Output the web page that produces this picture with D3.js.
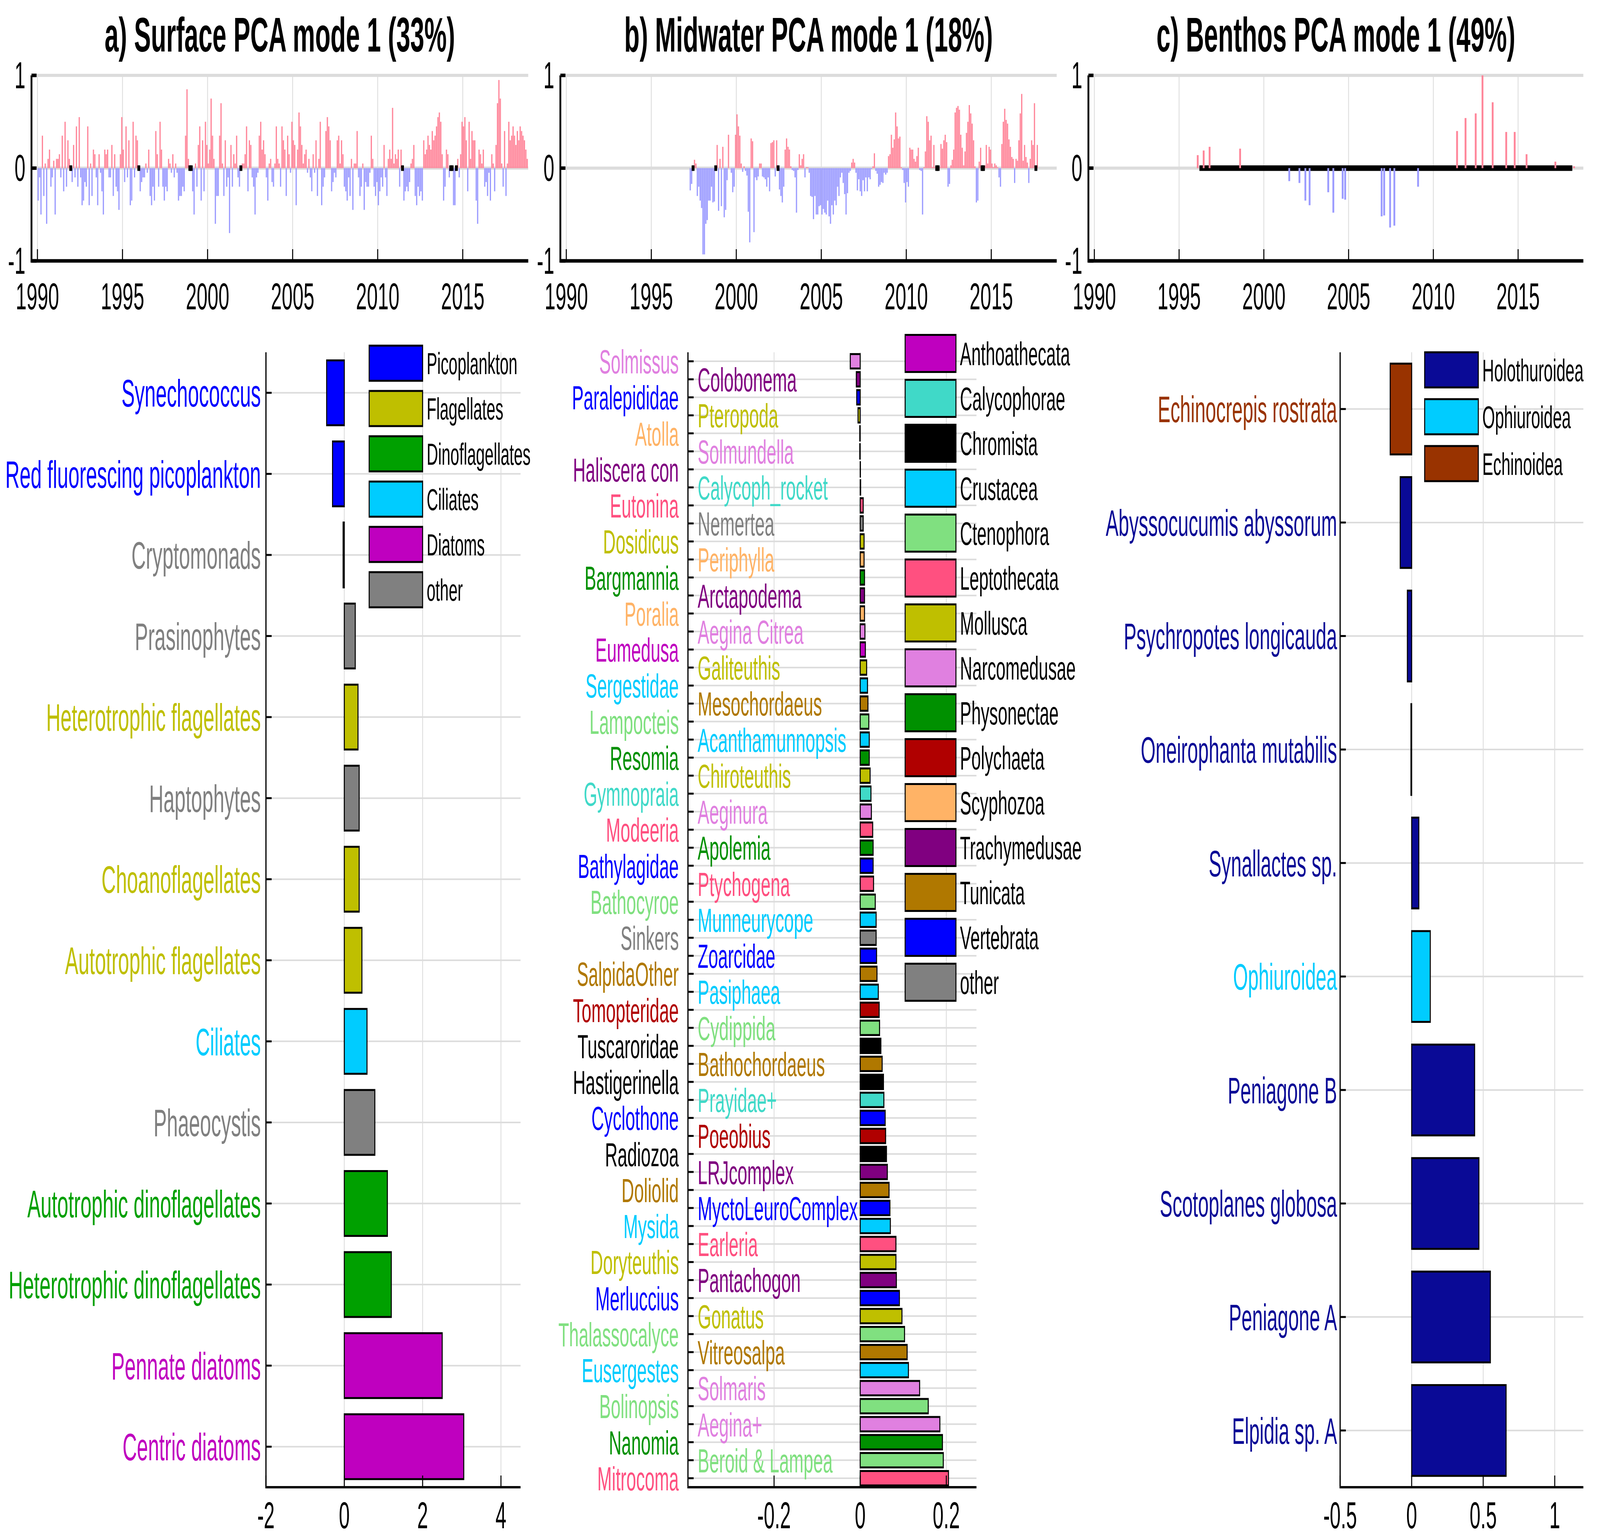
<!DOCTYPE html>
<html><head><meta charset="utf-8">
<script src="https://cdn.jsdelivr.net/npm/d3@7"></script>
<style>html,body{margin:0;background:#fff;overflow:hidden}svg{display:block}text{font-family:"Liberation Sans",Arial,sans-serif}</style>
</head><body>
<script>
// ---------- data ----------
var years = [1990, 1995, 2000, 2005, 2010, 2015];
var surfaceStart = 1990;
var surfaceSeries = [
 -.35,-.1,-.5,.35,-.3,.05,-.6,.1,.2,-.2,-.1,.08,
 -.5,.1,.1,.15,-.1,.35,-.25,.5,-.2,.3,.1,null,
 -.15,.25,-.1,.45,-.2,.55,-.1,-.4,-.35,-.15,-.2,.45,
 -.4,.05,-.3,.2,.15,-.1,-.4,.15,-.05,-.25,-.5,.2,
 .15,.2,-.1,-.1,.25,-.3,.15,-.2,-.25,-.45,.15,.55,
 .2,-.15,.45,-.1,.3,-.4,-.35,.5,-.1,.35,.3,null,
 -.25,-.15,-.1,-.1,.05,-.05,.2,-.3,-.4,-.2,-.35,.4,
 .15,-.2,.5,.2,-.2,-.35,-.2,-.25,.1,.05,-.05,.15,
 -.1,.05,-.05,-.35,-.3,-.3,-.2,-.25,.35,.85,.1,null,
 null,-.25,-.5,.05,-.2,.25,.45,-.35,.3,-.25,.5,.25,
 .05,.2,.75,.35,.1,-.6,-.3,-.3,.35,.7,.05,-.3,
 .3,-.2,-.1,-.7,.25,-.2,.15,.05,.35,-.1,-.2,null,
 .05,.05,.15,.45,-.25,.3,.25,-.1,-.2,-.5,-.1,-.05,
 .35,.5,.2,.3,.15,-.1,-.35,.05,.1,-.15,-.2,.05,
 .45,.1,.05,-.2,.45,.3,.2,-.3,.35,.15,-.05,.5,
 .3,.25,-.4,.2,.6,.45,.25,.05,.15,.2,-.05,.1,
 -.1,-.25,.15,-.05,.3,-.3,.1,.5,-.4,-.2,-.1,.4,
 .55,.45,.3,-.25,-.15,-.05,-.1,.3,.35,.05,.3,.15,
 -.2,-.25,-.35,-.1,-.3,.1,-.45,.05,.05,.4,-.1,-.3,
 -.2,.05,-.45,-.15,-.2,-.2,-.05,.35,.1,-.2,-.3,-.15,
 -.4,-.25,-.1,-.2,.25,-.1,-.3,.1,.2,.1,.65,.05,
 .15,.1,.2,-.2,.2,null,-.35,-.25,-.2,-.25,-.15,.05,
 .1,.25,-.3,-.4,-.2,-.3,-.25,-.35,.3,.15,.2,.35,
 .25,.2,.4,.3,.35,.45,.55,.6,.5,.15,-.35,-.2,
 .2,.15,-.1,null,null,-.4,-.4,null,.1,-.1,.15,.5,
 .45,.55,.3,-.25,.5,.1,.4,.3,.3,-.35,-.6,.2,
 .15,.05,.2,-.2,-.15,-.3,-.05,-.35,.15,.05,-.25,.25,
 .7,.95,.75,.05,-.2,.4,-.3,.05,.5,.3,.35,.45,
 .35,.25,.4,.3,.45,.4,.35,.3,.2,.1
];
var midwaterStart = 1997.25;
var midwaterSeries = [
 -.24,-.17,null,.09,.05,-.3,-.2,-.35,-.43,
 -.93,-.93,-.6,-.56,-.35,-.35,-.2,-.37,-.36,null,.25,-.46,
 .1,-.41,.23,-.53,-.45,-.13,.36,.0,-.05,-.26,-.2,.36,
 .58,.45,.35,.05,-.04,.02,-.03,-.08,-.47,-.8,.32,.29,
 -.69,-.1,-.13,-.09,.05,.05,-.09,-.1,-.12,-.2,-.1,-.25,
 .27,.28,.3,-.09,.3,null,-.23,-.3,-.37,-.2,.2,.32,
 .23,.2,.02,-.02,-.03,-.1,-.48,-.02,.15,.03,.1,.15,
 -.1,.01,.01,-.05,-.3,-.31,-.55,-.3,-.5,-.5,-.41,-.4,
 -.5,-.44,-.48,-.5,-.35,-.52,-.6,-.4,-.5,-.35,-.4,-.2,
 -.3,-.1,-.05,-.16,-.28,-.5,-.27,-.05,-.03,.06,.1,.06,
 -.05,-.24,-.12,-.25,-.3,-.13,-.25,-.1,-.25,-.1,-.12,-.01,
 .02,.16,-.03,-.06,-.2,-.18,-.15,-.16,-.05,-.07,-.05,.13,
 .15,.36,.22,.31,.6,.45,.32,.34,.01,-.02,-.16,-.37,
 -.15,-.2,.22,.2,.2,.1,.07,.13,.22,-.02,-.03,-.5,
 .01,.18,.56,.5,.3,.35,.01,.25,.01,null,null,.01,
 .26,.21,.3,.36,.28,-.2,-.17,.03,.09,.2,.6,.65,
 .67,.63,.36,.22,.03,.18,.38,.5,.68,.59,.48,.3,
 .02,-.37,-.35,.07,.22,null,null,.03,.25,.05,.23,.2,
 .05,.01,.05,.03,.01,-.1,-.2,.26,.5,.64,.52,.48,
 .31,.23,.12,.1,-.16,.1,.08,.3,.59,.8,.08,.25,
 .12,.06,-.16,.1,.3,.25,.7,null,.25
];
var benthosSpan = [1996.2, 2018.2];
var benthosYears = [1996.1,1996.45,1996.8,1998.6,2001.5,2002.1,2002.45,2002.7,2003.8,2004.1,2004.65,2004.8,
  2006.95,2007.1,2007.45,2007.7,2009.1,2011.4,2011.9,2012.5,2012.9,2013.5,2014.3,2014.8,2015.5,2017.2,2018.3];
var benthosValues = [.14,.19,.23,.21,-.14,-.16,-.35,-.4,-.26,-.48,-.33,-.34,
  -.52,-.51,-.64,-.62,-.2,.4,.54,.59,1.0,.71,.39,.39,.15,.07,.02];

var surfaceTaxa = ["Synechococcus","Red fluorescing picoplankton","Cryptomonads","Prasinophytes",
  "Heterotrophic flagellates","Haptophytes","Choanoflagellates","Autotrophic flagellates","Ciliates",
  "Phaeocystis","Autotrophic dinoflagellates","Heterotrophic dinoflagellates","Pennate diatoms","Centric diatoms"];
var surfaceLoadings = [-.45,-.3,-.03,.28,.35,.38,.38,.45,.58,.78,1.1,1.2,2.5,3.05];
var surfaceGroupOf = ["Picoplankton","Picoplankton","other","other","Flagellates","other","Flagellates",
  "Flagellates","Ciliates","other","Dinoflagellates","Dinoflagellates","Diatoms","Diatoms"];
var surfaceGroups = ["Picoplankton","Flagellates","Dinoflagellates","Ciliates","Diatoms","other"];
var surfaceColors = ["#0000ff","#bfbf00","#00a000","#00ccff","#bf00bf","#808080"];

var midwaterTaxa = ["Solmissus","Colobonema","Paralepididae","Pteropoda","Atolla","Solmundella",
  "Haliscera con","Calycoph_rocket","Eutonina","Nemertea","Dosidicus","Periphylla","Bargmannia",
  "Arctapodema","Poralia","Aegina Citrea","Eumedusa","Galiteuthis","Sergestidae","Mesochordaeus",
  "Lampocteis","Acanthamunnopsis","Resomia","Chiroteuthis","Gymnopraia","Aeginura","Modeeria",
  "Apolemia","Bathylagidae","Ptychogena","Bathocyroe","Munneurycope","Sinkers","Zoarcidae",
  "SalpidaOther","Pasiphaea","Tomopteridae","Cydippida","Tuscaroridae","Bathochordaeus",
  "Hastigerinella","Prayidae+","Cyclothone","Poeobius","Radiozoa","LRJcomplex","Doliolid",
  "MyctoLeuroComplex","Mysida","Earleria","Doryteuthis","Pantachogon","Merluccius","Gonatus",
  "Thalassocalyce","Vitreosalpa","Eusergestes","Solmaris","Bolinopsis","Aegina+","Nanomia",
  "Beroid & Lampea","Mitrocoma"];
var midwaterLoadings = [-.023,-.009,-.008,-.005,-.001,-.001,.0005,.001,.007,.007,.009,.009,.01,
  .01,.01,.011,.012,.015,.017,.018,.02,.021,.021,.023,.025,.026,.029,.03,.03,.031,.035,.037,.037,
  .038,.039,.042,.044,.045,.048,.051,.054,.055,.058,.059,.061,.063,.067,.069,.07,.083,.083,.084,
  .091,.097,.103,.109,.112,.138,.158,.185,.191,.193,.205];
var midwaterGroupOf = ["Narcomedusae","Trachymedusae","Vertebrata","Mollusca","Scyphozoa","Narcomedusae",
  "Trachymedusae","Calycophorae","Leptothecata","other","Mollusca","Scyphozoa","Physonectae",
  "Trachymedusae","Scyphozoa","Narcomedusae","Anthoathecata","Mollusca","Crustacea","Tunicata",
  "Ctenophora","Crustacea","Physonectae","Mollusca","Calycophorae","Narcomedusae","Leptothecata",
  "Physonectae","Vertebrata","Leptothecata","Ctenophora","Crustacea","other","Vertebrata",
  "Tunicata","Crustacea","Polychaeta","Ctenophora","Chromista","Tunicata","Chromista","Calycophorae",
  "Vertebrata","Polychaeta","Chromista","Trachymedusae","Tunicata","Vertebrata","Crustacea",
  "Leptothecata","Mollusca","Trachymedusae","Vertebrata","Mollusca","Ctenophora","Tunicata",
  "Crustacea","Narcomedusae","Ctenophora","Narcomedusae","Physonectae","Ctenophora","Leptothecata"];
var midwaterGroups = ["Anthoathecata","Calycophorae","Chromista","Crustacea","Ctenophora","Leptothecata",
  "Mollusca","Narcomedusae","Physonectae","Polychaeta","Scyphozoa","Trachymedusae","Tunicata","Vertebrata","other"];
var midwaterColors = ["#bf00bf","#40d9c8","#000000","#00ccff","#80e080","#ff5080","#bfbf00","#e080e0",
  "#009000","#b00000","#ffb366","#800080","#b07800","#0000ff","#808080"];

var benthosTaxa = ["Echinocrepis rostrata","Abyssocucumis abyssorum","Psychropotes longicauda",
  "Oneirophanta mutabilis","Synallactes sp.","Ophiuroidea","Peniagone B","Scotoplanes globosa",
  "Peniagone A","Elpidia sp. A"];
var benthosLoadings = [-.15,-.08,-.03,-.005,.05,.13,.44,.47,.55,.66];
var benthosGroupOf = ["Echinoidea","Holothuroidea","Holothuroidea","Holothuroidea","Holothuroidea",
  "Ophiuroidea","Holothuroidea","Holothuroidea","Holothuroidea","Holothuroidea"];
var benthosGroups = ["Holothuroidea","Ophiuroidea","Echinoidea"];
var benthosColors = ["#0a0a96","#00ccff","#993300"];

var titles = ["a) Surface PCA mode 1 (33%)","b) Midwater PCA mode 1 (18%)","c) Benthos PCA mode 1 (49%)"];

// ---------- drawing ----------
// drawn in 7875x3938 units, stretched onto whatever window we get
var W = 7875, H = 3938;
var svg = d3.select("body").append("svg")
  .attr("viewBox", "0 0 " + W + " " + H).attr("preserveAspectRatio", "none")
  .style("width", "100vw").style("height", "100vh");
var grid = "#dcdcdc", pos = "#ff8599", neg = "#9b9bff";
var tsTop = 193, tsBot = 668, tsDomain = [1989.65, 2018.85];
var tsPanels = [[155, 2600], [2758, 5201], [5357, 7793]];

function monthly(start, vals) {
  return vals.map(function (v, i) { return {t: start + i / 12 + 1 / 24, v: v}; });
}

function timeAxes(p, title) {
  var x = d3.scaleLinear().domain(tsDomain).range(p);
  var y = d3.scaleLinear().domain([-1, 1]).range([tsBot, tsTop]);
  var g = svg.append("g");
  g.selectAll(".vg").data(years).enter().append("line")
    .attr("x1", x).attr("x2", x).attr("y1", tsTop).attr("y2", tsBot)
    .attr("stroke", grid).attr("stroke-width", 4);
  g.selectAll(".hg").data([-1, 0, 1]).enter().append("line")
    .attr("x1", p[0]).attr("x2", p[1]).attr("y1", y).attr("y2", y)
    .attr("stroke", grid).attr("stroke-width", 8);
  svg.append("text").attr("x", (p[0] + p[1]) / 2).attr("y", 132).attr("text-anchor", "middle")
    .attr("font-size", 124).attr("font-weight", "bold").text(title);
  return {x: x, y: y, g: g};
}

function timeFrame(a, p) {
  var g = svg.append("g");
  g.append("path").attr("d", "M" + p[0] + "," + tsTop + "V" + tsBot + "H" + p[1])
    .attr("fill", "none").attr("stroke", "#000").attr("stroke-width", 9);
  g.selectAll(".xt").data(years).enter().append("line")
    .attr("x1", a.x).attr("x2", a.x).attr("y1", tsBot).attr("y2", tsBot - 30)
    .attr("stroke", "#000").attr("stroke-width", 5);
  g.selectAll(".xl").data(years).enter().append("text")
    .attr("x", a.x).attr("y", tsBot + 124).attr("text-anchor", "middle").attr("font-size", 96)
    .text(function (d) { return d; });
  g.selectAll(".yt").data([-1, 0, 1]).enter().append("line")
    .attr("x1", p[0]).attr("x2", p[0] + 25).attr("y1", a.y).attr("y2", a.y)
    .attr("stroke", "#000").attr("stroke-width", 9);
  g.selectAll(".yl").data([-1, 0, 1]).enter().append("text")
    .attr("x", p[0] - 30).attr("y", a.y).attr("dy", "0.34em").attr("text-anchor", "end")
    .attr("font-size", 96).text(function (d) { return d; });
}

function drawSeries(a, data, bw) {
  var pts = data.filter(function (d) { return d.v !== null; });
  a.g.selectAll(".bar").data(pts).enter().append("rect")
    .attr("x", function (d) { return a.x(d.t) - bw / 2; }).attr("width", bw)
    .attr("y", function (d) { return a.y(Math.max(0, d.v)); })
    .attr("height", function (d) { return Math.abs(a.y(d.v) - a.y(0)); })
    .attr("fill", function (d) { return d.v >= 0 ? pos : neg; });
  var miss = data.filter(function (d) { return d.v === null; });
  a.g.selectAll(".miss").data(miss).enter().append("rect")
    .attr("x", function (d) { return a.x(d.t) - 7; }).attr("width", 14)
    .attr("y", a.y(0.03)).attr("height", a.y(-0.03) - a.y(0.03)).attr("fill", "#000");
}

var aT = timeAxes(tsPanels[0], titles[0]);
drawSeries(aT, monthly(surfaceStart, surfaceSeries), 6);
timeFrame(aT, tsPanels[0]);

var bT = timeAxes(tsPanels[1], titles[1]);
drawSeries(bT, monthly(midwaterStart, midwaterSeries), 6);
timeFrame(bT, tsPanels[1]);

var cT = timeAxes(tsPanels[2], titles[2]);
cT.g.append("rect").attr("x", cT.x(benthosSpan[0])).attr("width", cT.x(benthosSpan[1]) - cT.x(benthosSpan[0]))
  .attr("y", cT.y(0.03)).attr("height", cT.y(-0.03) - cT.y(0.03)).attr("fill", "#000");
drawSeries(cT, benthosYears.map(function (t, i) { return {t: t, v: benthosValues[i]}; }), 9);
timeFrame(cT, tsPanels[2]);

// ---------- loading bar panels ----------
var lbTop = 902, lbBot = 3808;

function loadingPanel(o) {
  var x = d3.scaleLinear().domain(o.domain).range(o.range);
  var y = d3.scaleBand().domain(o.taxa).range([lbTop, lbBot]).paddingInner(0.2).paddingOuter(0.1);
  var col = d3.scaleOrdinal().domain(o.groups).range(o.colors);
  var g = svg.append("g");
  var yc = function (d) { return y(d) + y.bandwidth() / 2; };
  g.selectAll(".hg").data(o.taxa).enter().append("line")
    .attr("x1", o.range[0]).attr("x2", o.range[1]).attr("y1", yc).attr("y2", yc)
    .attr("stroke", grid).attr("stroke-width", 4);
  g.selectAll(".vg").data(o.ticks).enter().append("line")
    .attr("x1", x).attr("x2", x).attr("y1", lbTop).attr("y2", lbBot)
    .attr("stroke", grid).attr("stroke-width", 4);
  g.selectAll(".bar").data(o.taxa).enter().append("rect")
    .attr("x", function (d, i) { return x(Math.min(0, o.values[i])); })
    .attr("width", function (d, i) { return Math.abs(x(o.values[i]) - x(0)); })
    .attr("y", function (d) { return y(d); }).attr("height", y.bandwidth())
    .attr("fill", function (d, i) { return col(o.groupOf[i]); })
    .attr("stroke", "#000").attr("stroke-width", 5);
  g.append("path").attr("d", "M" + o.range[0] + "," + lbTop + "V" + lbBot + "H" + o.range[1])
    .attr("fill", "none").attr("stroke", "#000").attr("stroke-width", 6);
  g.selectAll(".yt").data(o.taxa).enter().append("line")
    .attr("x1", o.range[0]).attr("x2", o.range[0] + 28).attr("y1", yc).attr("y2", yc)
    .attr("stroke", "#000").attr("stroke-width", 5);
  g.selectAll(".xt").data(o.ticks).enter().append("line")
    .attr("x1", x).attr("x2", x).attr("y1", lbBot).attr("y2", lbBot - 30)
    .attr("stroke", "#000").attr("stroke-width", 5);
  g.selectAll(".xl").data(o.ticks).enter().append("text")
    .attr("x", x).attr("y", lbBot + 105).attr("text-anchor", "middle").attr("font-size", 96)
    .text(function (d) { return d; });
  g.selectAll(".lab").data(o.taxa).enter().append("text")
    .attr("x", function (d, i) { return o.split && i % 2 ? o.range[0] + 48 : o.labelX; })
    .attr("y", yc).attr("dy", "0.36em")
    .attr("text-anchor", function (d, i) { return o.split && i % 2 ? "start" : "end"; })
    .attr("font-size", o.fs).attr("fill", function (d, i) { return col(o.groupOf[i]); })
    .text(function (d) { return d; });
  var lg = g.selectAll(".leg").data(o.groups).enter().append("g")
    .attr("transform", function (d, i) { return "translate(" + o.leg[0] + "," + (o.leg[1] + i * o.leg[2]) + ")"; });
  lg.append("rect").attr("x", 0).attr("y", -o.leg[3] / 2).attr("width", o.leg[4]).attr("height", o.leg[3])
    .attr("fill", function (d) { return col(d); }).attr("stroke", "#000").attr("stroke-width", 5);
  lg.append("text").attr("x", o.leg[4] + 20).attr("dy", "0.36em").attr("font-size", o.leg[5])
    .text(function (d) { return d; });
}

loadingPanel({taxa: surfaceTaxa, values: surfaceLoadings, groupOf: surfaceGroupOf, groups: surfaceGroups,
  colors: surfaceColors, domain: [-2, 4.5], range: [1309, 2562], ticks: [-2, 0, 2, 4],
  labelX: 1284, fs: 98, leg: [1817, 930, 116, 90, 263, 78]});
loadingPanel({taxa: midwaterTaxa, values: midwaterLoadings, groupOf: midwaterGroupOf, groups: midwaterGroups,
  colors: midwaterColors, domain: [-0.4, 0.27], range: [3386, 4806], ticks: [-0.2, 0, 0.2],
  labelX: 3341, fs: 86, split: true, leg: [4455, 905, 115, 95, 250, 84]});
loadingPanel({taxa: benthosTaxa, values: benthosLoadings, groupOf: benthosGroupOf, groups: benthosGroups,
  colors: benthosColors, domain: [-0.5, 1.2], range: [6596, 7793], ticks: [-0.5, 0, 0.5, 1],
  labelX: 6581, fs: 94, leg: [7012, 947, 120, 90, 264, 80]});
</script>
</body></html>
